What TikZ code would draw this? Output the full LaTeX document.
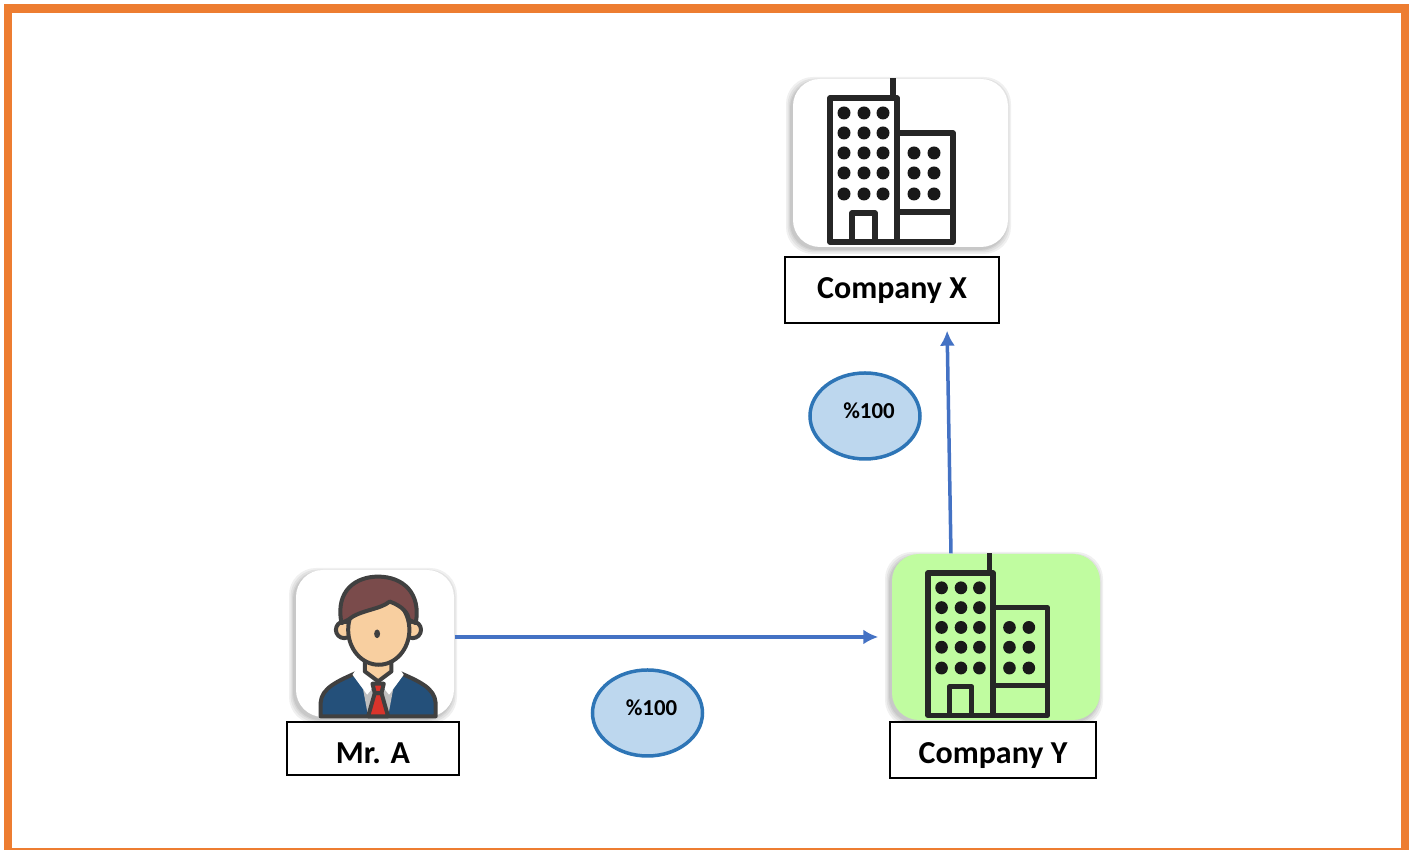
\documentclass[tikz,border=0pt]{standalone}
\usepackage{fontspec}
\setmainfont{Carlito}
\definecolor{frameorange}{HTML}{ED7D31}
\definecolor{linkblue}{HTML}{4472C4}
\definecolor{bubblefill}{HTML}{BDD7EE}
\definecolor{bubbleline}{HTML}{2E75B6}
\definecolor{cardgreen}{HTML}{C0FCA0}
\definecolor{hairbrown}{HTML}{7A4B4B}
\definecolor{skintone}{HTML}{F8CFA0}
\definecolor{suitblue}{HTML}{24507A}
\definecolor{tiered}{HTML}{D9342B}
\tikzset{
    card/.style={rounded corners=0.27cm, inner sep=0pt, fill=white},
    namebox/.style={draw, line width=0.4pt, fill=white, inner sep=0pt, font=\bfseries\fontsize{9.1pt}{11pt}\selectfont},
    bubble/.style={ellipse, draw=bubbleline, line width=0.035cm, fill=bubblefill, inner sep=0pt, minimum width=1.1cm, minimum height=0.86cm},
    pct/.style={font=\bfseries\fontsize{6.5pt}{8pt}\selectfont},
    link/.style={-{Latex[length=0.15cm,width=0.15cm]}, linkblue, line width=0.035cm},
    icon/.style={line width=0.052cm, black!85, line join=round},
}
\usetikzlibrary{arrows.meta,shapes.geometric}
% soft shadow below a card, from left,top to right,bottom
\newcommand{\cardshadow}[4]{
    \foreach \grow in {0.05,0.035,0.02,0.01}
        \fill[black, opacity=0.06, rounded corners=0.27cm] (#1-\grow-0.02,#2-\grow+0.03) rectangle (#3+\grow-0.02,#4+\grow+0.02);
}
% tower with annex, origin at the top left corner of the tower
\newcommand{\buildingicon}{
    \draw[icon] (0,1.44) rectangle (0.67,0);
    \draw[icon] (0.63,0) -- (0.63,-0.2);
    \draw[icon] (0.67,0.35) -- (1.23,0.35) -- (1.23,1.44) -- (0.67,1.44);
    \draw[icon] (0.67,1.14) -- (1.23,1.14);
    \draw[icon] (0.22,1.44) -- (0.22,1.15) -- (0.45,1.15) -- (0.45,1.44);
    \foreach \wy in {0.15,0.35,0.55,0.75,0.96}
        \foreach \wx in {0.14,0.34,0.53}
            \fill[black!90] (\wx,\wy) circle (0.065);
    \foreach \wy in {0.55,0.75,0.96}
        \foreach \wx in {0.84,1.04}
            \fill[black!90] (\wx,\wy) circle (0.065);
}
\begin{document}
\begin{tikzpicture}[y=-1cm]
    \useasboundingbox (0,0) rectangle (14.16,8.5);
    \draw[frameorange, line width=0.085cm] (0.08,0.083) rectangle (14.05,8.52);

    \cardshadow{7.93}{0.79}{10.08}{2.47}
    \cardshadow{2.96}{5.70}{4.54}{7.17}
    \cardshadow{8.92}{5.54}{11.00}{7.20}

    \node[card, minimum width=2.15cm, minimum height=1.68cm] (companyxcard) at (9.005,1.63) {};
    \node[card, fill=cardgreen, minimum width=2.08cm, minimum height=1.66cm] (companyycard) at (9.96,6.37) {};
    \node[card, minimum width=1.58cm, minimum height=1.47cm] (mracard) at (3.75,6.435) {};

    \begin{scope}[shift={(8.30,0.98)}]
        \buildingicon
    \end{scope}
    \begin{scope}[shift={(9.28,5.73)}, xscale=0.97, yscale=0.99]
        \buildingicon
    \end{scope}

    % person, in pixels of the 3x crop
    \begin{scope}[shift={(2.80,5.60)}, x=0.00333cm, y=-0.00333cm, line width=0.04cm, draw=black!75, line join=round]
        \filldraw[fill=suitblue] (122,470) -- (122,430) .. controls (125,385) and (170,365) .. (240,335) -- (350,335) .. controls (420,365) and (465,385) .. (468,430) -- (468,470) -- cycle;
        \fill[black!25] (250,390) -- (340,390) -- (325,470) -- (265,470) -- cycle;
        \filldraw[fill=tiered] (285,400) -- (305,400) -- (325,470) -- (265,470) -- cycle;
        \fill[white] (240,312) -- (218,345) -- (262,405) -- (295,365) -- (328,405) -- (372,345) -- (350,312) -- cycle;
        \filldraw[fill=tiered] (278,372) -- (312,372) -- (305,400) -- (285,400) -- cycle;
        \filldraw[fill=skintone] (255,295) -- (335,295) -- (335,335) -- (295,365) -- (255,335) -- cycle;
        \filldraw[fill=skintone] (193,210) circle (25);
        \filldraw[fill=skintone] (399,210) circle (25);
        \filldraw[fill=skintone] (297,210) ellipse (92 and 105);
        \filldraw[fill=hairbrown] (185,190) .. controls (165,90) and (230,50) .. (295,50) .. controls (370,50) and (425,100) .. (408,190) -- (388,180) .. controls (385,160) and (370,140) .. (330,125) .. controls (300,150) and (240,150) .. (205,180) -- cycle;
        \fill[black!75] (292,222) ellipse (9 and 13);
    \end{scope}

    \node[namebox, minimum width=2.14cm, minimum height=0.66cm, text height=0.25cm, text depth=0.08cm] (companyx) at (8.92,2.90) {Company X};
    \node[namebox, minimum width=2.06cm, minimum height=0.56cm, text height=0.34cm, text depth=0.07cm] (companyy) at (9.93,7.50) {Company Y};
    \node[namebox, minimum width=1.72cm, minimum height=0.53cm, text height=0.34cm, text depth=0.04cm] (mra) at (3.73,7.485) {Mr. A};

    \node[bubble, label={[pct, xshift=0.04cm, yshift=0.05cm]center:\%100}] (ownx) at (8.65,4.16) {};
    \node[bubble, label={[pct, xshift=0.04cm, yshift=0.05cm]center:\%100}] (owny) at (6.475,7.13) {};

    \draw[link, shorten >=0.13cm] ([yshift=0.065cm]mracard.east) -- (companyycard.west);
    \draw[link, shorten >=0.07cm] ([xshift=-0.45cm]companyycard.north) -- ([xshift=0.55cm]companyx.south);
\end{tikzpicture}
\end{document}
